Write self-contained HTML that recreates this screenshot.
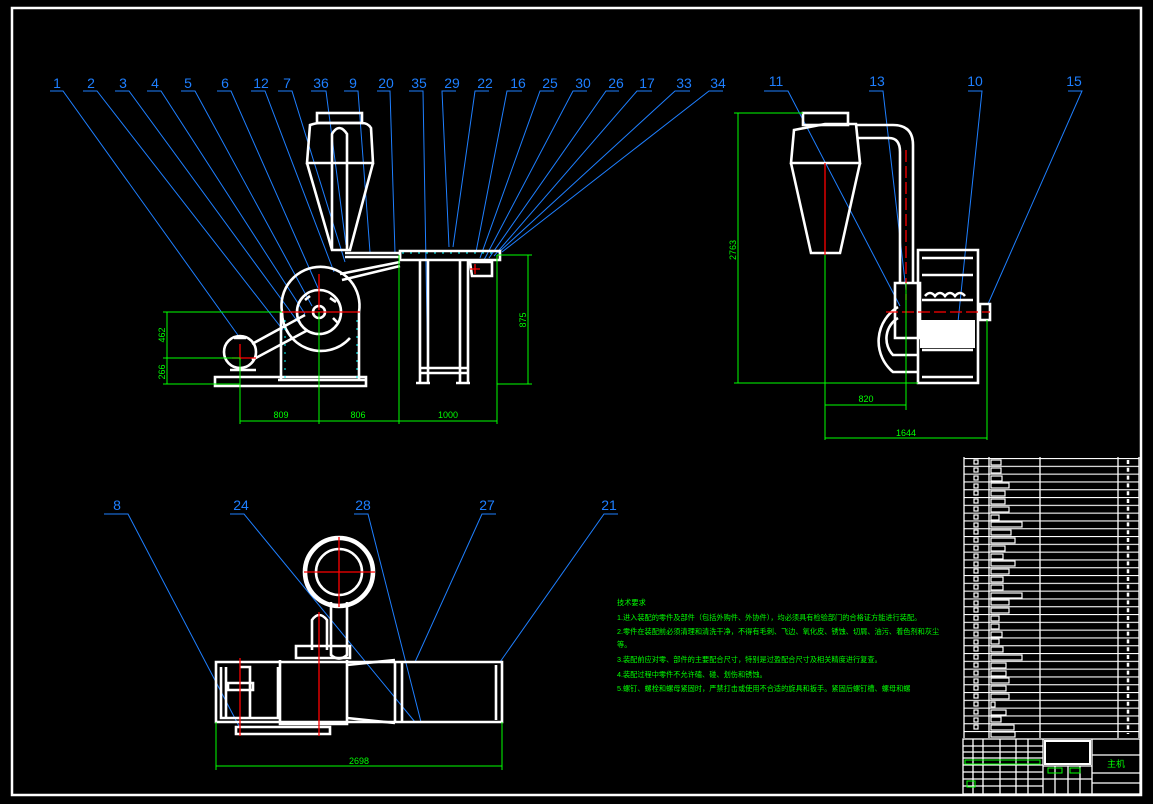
<!DOCTYPE html>
<html><head><meta charset="utf-8"><style>
html,body{margin:0;padding:0;background:#000;width:1153px;height:804px;overflow:hidden}
svg{display:block}
.w{stroke:#fff;stroke-width:2.6;fill:none}
.wt{stroke:#fff;stroke-width:1.3;fill:none}
.b{stroke:#1e7fff;stroke-width:1;fill:none}
.g{stroke:#00ff00;stroke-width:1;fill:none}
.r{stroke:#ff0000;stroke-width:1.3;fill:none}
.c{stroke:#00ffff;stroke-width:1;fill:none;stroke-dasharray:2 6}
.lb{fill:#1e7fff;font-family:"Liberation Sans",sans-serif;font-size:14px;text-anchor:middle}
.gt{fill:#00ff00;font-family:"Liberation Sans",sans-serif;font-size:9px;text-anchor:middle}
.tt{fill:#00ff00;font-family:"Liberation Sans","Noto Sans CJK SC",sans-serif;font-size:7.2px}
</style></head><body>
<svg width="1153" height="804" viewBox="0 0 1153 804" xmlns="http://www.w3.org/2000/svg">
<rect x="12" y="8" width="1129" height="787" fill="none" stroke="#fff" stroke-width="2.5"/>

<g class="lb">
<text x="57" y="88">1</text><text x="91" y="88">2</text><text x="123" y="88">3</text><text x="155" y="88">4</text><text x="188" y="88">5</text><text x="225" y="88">6</text><text x="261" y="88">12</text><text x="287" y="88">7</text><text x="321" y="88">36</text><text x="353" y="88">9</text><text x="386" y="88">20</text><text x="419" y="88">35</text><text x="452" y="88">29</text><text x="485" y="88">22</text><text x="518" y="88">16</text><text x="550" y="88">25</text><text x="583" y="88">30</text><text x="616" y="88">26</text><text x="647" y="88">17</text><text x="684" y="88">33</text><text x="718" y="88">34</text>
</g>
<g class="b">
<path d="M50 91H63L240 338"/><path d="M83 91H97L283 330"/><path d="M115 91H129L298 322"/><path d="M147 91H161L305 314"/><path d="M181 91H195L312 306"/><path d="M217 91H231L318 288"/><path d="M251 91H265L334 272"/><path d="M278 91H292L345 262"/><path d="M311 91H326L346 245"/><path d="M344 91H358L370 252"/><path d="M377 91H390L395 253"/><path d="M409 91H423L428 380"/><path d="M456 91H442L449 247"/><path d="M489 91H475L453 247"/><path d="M522 91H507L476 252"/><path d="M554 91H540L480 258"/><path d="M587 91H573L484 260"/><path d="M619 91H606L489 258"/><path d="M652 91H637L494 256"/><path d="M690 91H675L498 253"/><path d="M723 91H709L502 252"/>
</g>

<g class="w">
<rect x="317" y="113" width="45" height="10"/>
<path d="M310 125Q316 123 320 123H362Q368 123 371 128L373 163H307L310 125Z"/>
<path d="M307 163L332 250H350L373 163"/>
<path d="M332 250V134Q339 122 347 134V250"/>
<path d="M345 253H400V257H345"/>
<path d="M340 274L400 262M342 280L400 266"/>
<path d="M282 312A39 39 0 1 1 359 312"/>
<path d="M282 312A39 39 0 0 0 350 338"/>
<circle cx="319" cy="312" r="22"/>
<circle cx="319" cy="312" r="6"/>
<path d="M330 298L336 302M333 318L338 323M305 300L310 296"/>
<path d="M281 312V380M359 312V380M278 380H366M215 377H366V386H215Z"/>
<circle cx="240" cy="352" r="16"/>
<path d="M230 370H256M234 338H246M252 344L305 315M252 360L308 330"/>
<path d="M400 251H500V260H400Z"/>
<path d="M420 260V383M428 260V383M460 260V383M468 260V383M420 368H468M420 373H468"/>
<path d="M416 383H430M456 383H470"/>
<path d="M470 262H492V276H472Z"/>
</g>
<path class="c" d="M402 253H498M285 320V378M357 320V378"/>
<path class="r" d="M319 274V310M282 312H360M232 358H256M240 344V360M470 269H480M475 264V274"/>
<g class="g">
<path d="M319 312V424M240 358V424M399 255V424M497 255V424M240 421H497"/>
<path d="M163 312H282M163 358H240M163 384H240M167 312V384"/>
<path d="M497 255H532M497 384H532M528 255V384"/>
</g>
<text class="gt" x="281" y="418">809</text><text class="gt" x="358" y="418">806</text><text class="gt" x="448" y="418">1000</text>
<text class="gt" transform="translate(165,335) rotate(-90)">462</text>
<text class="gt" transform="translate(165,372) rotate(-90)">266</text>
<text class="gt" transform="translate(526,320) rotate(-90)">875</text>

<g class="lb"><text x="776" y="86">11</text><text x="877" y="86">13</text><text x="975" y="86">10</text><text x="1074" y="86">15</text></g>
<g class="b"><path d="M764 91H788L900 306"/><path d="M869 91H883L906 290"/><path d="M968 91H982L958 322"/><path d="M1068 91H1082L988 304"/></g>
<g class="w">
<rect x="803" y="113" width="45" height="12"/>
<path d="M794 130L825 124H856L860 163H791Z"/>
<path d="M791 163L811 253H840L860 163"/>
<path d="M856 125H893Q913 125 913 145V283M858 138H889Q900 138 900 152V283"/>
<path d="M918 250H978V383H918Z"/>
<path d="M922 258H973M922 275H973M922 300H973M922 350H973M922 377H973"/>
<path d="M925 296Q930 290 935 296Q940 290 945 296Q950 290 955 296Q960 290 965 296"/>
<path d="M895 283H920V338H895Z"/>
<path d="M898 307A40 40 0 0 0 893 372H918M898 318A24 24 0 0 0 893 355H918"/>
<path d="M980 304H990V320H980Z"/>
</g>
<rect x="920" y="320" width="55" height="28" fill="#fff"/>
<path class="r" d="M886 312H990M906 150V300" stroke-dasharray="12 4"/>
<path class="r" d="M825 163V255"/>
<g class="g">
<path d="M734 113H803M734 383H918M738 113V383"/>
<path d="M825 255V440M906 283V410M987 320V440M825 405H906M825 438H987"/>
</g>
<text class="gt" transform="translate(736,250) rotate(-90)">2763</text>
<text class="gt" x="866" y="402">820</text><text class="gt" x="906" y="436">1644</text>

<g class="lb"><text x="117" y="510">8</text><text x="241" y="510">24</text><text x="363" y="510">28</text><text x="487" y="510">27</text><text x="609" y="510">21</text></g>
<g class="b"><path d="M104 514H128L240 728"/><path d="M230 514H244L415 722"/><path d="M354 514H368L421 722"/><path d="M496 514H482L415 662"/><path d="M618 514H604L500 662"/></g>
<g class="w">
<circle cx="339" cy="572" r="35"/><circle cx="339" cy="572" r="33"/><circle cx="339" cy="572" r="23"/>
<path d="M331 602V655Q339 662 347 655V602"/>
<path d="M312 650V620Q319 610 327 620V650"/>
<path d="M296 646H350V658H296Z"/>
<path d="M216 662H502V722H216Z"/>
<path d="M221 667V718H278V667M226 667V718M240 667H250V718"/>
<path d="M280 660V724H347V660"/>
<path d="M347 665L395 660M347 718L395 723M395 662V722M402 662V722"/>
<path d="M496 665V720"/>
<path d="M236 727H330V734H236Z"/>
<path d="M228 683H253V690H228Z"/>
</g>
<path class="r" d="M304 572H375M339 537V607M240 658V736M319 612V736"/>
<path class="g" d="M216 722V770M502 722V770M216 766H502"/>
<text class="gt" x="359" y="764">2698</text>

<g class="tt">
<text x="617" y="605">技术要求</text>
<text x="617" y="620">1.进入装配的零件及部件（包括外购件、外协件），均必须具有检验部门的合格证方能进行装配。</text>
<text x="617" y="634">2.零件在装配前必须清理和清洗干净，不得有毛刺、飞边、氧化皮、锈蚀、切屑、油污、着色剂和灰尘</text>
<text x="617" y="647">等。</text>
<text x="617" y="662">3.装配前应对零、部件的主要配合尺寸，特别是过盈配合尺寸及相关精度进行复查。</text>
<text x="617" y="677">4.装配过程中零件不允许磕、碰、划伤和锈蚀。</text>
<text x="617" y="691">5.螺钉、螺栓和螺母紧固时，严禁打击或使用不合适的旋具和扳手。紧固后螺钉槽、螺母和螺</text>
</g>

<defs><pattern id="rows" x="0" y="458" width="10" height="7.8" patternUnits="userSpaceOnUse"><line x1="0" y1="0.5" x2="10" y2="0.5" stroke="#fff" stroke-width="1.2"/></pattern></defs>
<rect x="964" y="458" width="175" height="280" fill="url(#rows)"/>
<path d="M964 457V738M989 457V738M1040 457V738M1118 457V738M1139 457V738" stroke="#fff" stroke-width="1.3"/>
<g fill="none" stroke="#fff" stroke-width="1.2">
<rect x="974" y="460" width="4" height="4"/><rect x="974" y="468" width="4" height="4"/><rect x="974" y="476" width="4" height="4"/><rect x="974" y="484" width="4" height="4"/><rect x="974" y="491" width="4" height="4"/><rect x="974" y="499" width="4" height="4"/><rect x="974" y="507" width="4" height="4"/><rect x="974" y="515" width="4" height="4"/><rect x="974" y="523" width="4" height="4"/><rect x="974" y="530" width="4" height="4"/><rect x="974" y="538" width="4" height="4"/><rect x="974" y="546" width="4" height="4"/><rect x="974" y="554" width="4" height="4"/><rect x="974" y="562" width="4" height="4"/><rect x="974" y="569" width="4" height="4"/><rect x="974" y="577" width="4" height="4"/><rect x="974" y="585" width="4" height="4"/><rect x="974" y="593" width="4" height="4"/><rect x="974" y="601" width="4" height="4"/><rect x="974" y="608" width="4" height="4"/><rect x="974" y="616" width="4" height="4"/><rect x="974" y="624" width="4" height="4"/><rect x="974" y="632" width="4" height="4"/><rect x="974" y="640" width="4" height="4"/><rect x="974" y="647" width="4" height="4"/><rect x="974" y="655" width="4" height="4"/><rect x="974" y="663" width="4" height="4"/><rect x="974" y="671" width="4" height="4"/><rect x="974" y="679" width="4" height="4"/><rect x="974" y="686" width="4" height="4"/><rect x="974" y="694" width="4" height="4"/><rect x="974" y="702" width="4" height="4"/><rect x="974" y="710" width="4" height="4"/><rect x="974" y="718" width="4" height="4"/><rect x="974" y="725" width="4" height="4"/>
<rect x="991" y="460" width="10" height="5"/><rect x="991" y="468" width="10" height="5"/><rect x="991" y="476" width="11" height="5"/><rect x="991" y="483" width="18" height="5"/><rect x="991" y="491" width="14" height="5"/><rect x="991" y="499" width="14" height="5"/><rect x="991" y="507" width="18" height="5"/><rect x="991" y="515" width="8" height="5"/><rect x="991" y="522" width="31" height="5"/><rect x="991" y="530" width="20" height="5"/><rect x="991" y="538" width="24" height="5"/><rect x="991" y="546" width="14" height="5"/><rect x="991" y="554" width="12" height="5"/><rect x="991" y="561" width="24" height="5"/><rect x="991" y="569" width="18" height="5"/><rect x="991" y="577" width="12" height="5"/><rect x="991" y="585" width="12" height="5"/><rect x="991" y="593" width="31" height="5"/><rect x="991" y="600" width="18" height="5"/><rect x="991" y="608" width="18" height="5"/><rect x="991" y="616" width="8" height="5"/><rect x="991" y="624" width="8" height="5"/><rect x="991" y="632" width="11" height="5"/><rect x="991" y="639" width="8" height="5"/><rect x="991" y="647" width="12" height="5"/><rect x="991" y="655" width="31" height="5"/><rect x="991" y="663" width="15" height="5"/><rect x="991" y="671" width="15" height="5"/><rect x="991" y="678" width="18" height="5"/><rect x="991" y="686" width="15" height="5"/><rect x="991" y="694" width="18" height="5"/><rect x="991" y="702" width="4" height="5"/><rect x="991" y="710" width="15" height="5"/><rect x="991" y="717" width="10" height="5"/><rect x="991" y="725" width="23" height="5"/><rect x="991" y="732" width="24" height="5"/>
</g>
<path d="M1128 460V734" stroke="#fff" stroke-width="2.5" stroke-dasharray="4 3.8"/>
<g class="wt">
<rect x="963" y="739" width="177" height="55"/>
<path d="M1043 739V794M1092 739V794M963 746H1043M963 752H1043M963 758H1043M963 765H1043M963 772H1043M963 779H1043M963 786H1043"/>
<path d="M973 739V794M983 739V794M1000 739V794M1016 739V794M1028 739V794"/>
<path d="M1043 766H1092M1043 779H1092M1055 766V794M1068 766V794M1080 766V794"/>
<path d="M1092 755H1140M1092 773H1140M1092 783H1140"/>
</g>
<rect x="1045" y="741" width="45" height="23" fill="none" stroke="#fff" stroke-width="2"/>
<g stroke="#00ff00" fill="none" stroke-width="1"><rect x="965" y="760" width="75" height="4"/><rect x="1048" y="768" width="14" height="5"/><rect x="1070" y="768" width="10" height="5"/><rect x="967" y="781" width="8" height="6"/></g>
<text class="gt" x="1116" y="767">主机</text>
</svg>
</body></html>
